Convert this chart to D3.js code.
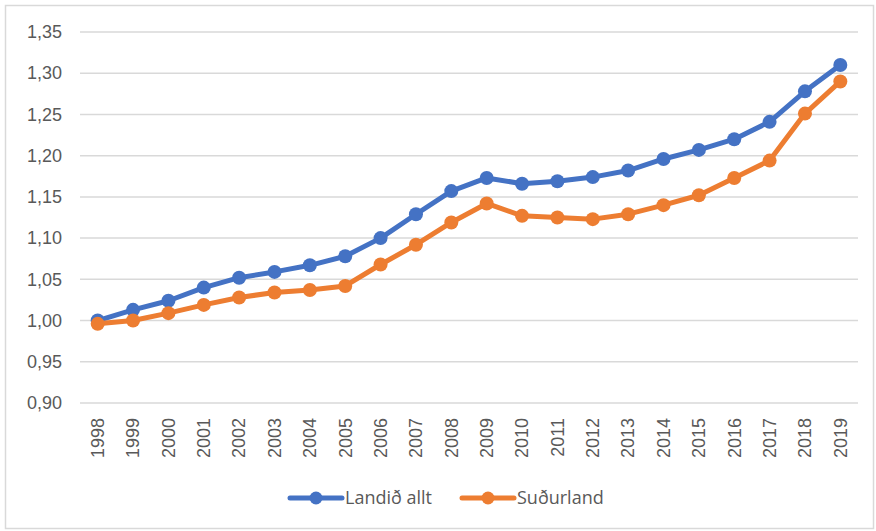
<!DOCTYPE html>
<html>
<head>
  <meta charset="utf-8">
  <title>Landið allt / Suðurland</title>
  <script src="https://cdn.jsdelivr.net/npm/d3@7/dist/d3.min.js"></script>
  <style>
    body { margin: 0; background: #fff; }
    svg { display: block; font-family: "Open Sans", "Noto Sans", sans-serif; }
    .grid line { stroke: #d9d9d9; stroke-width: 1.5; }
    .axis text { fill: #595959; font-size: 18px; }
    .legend text { fill: #595959; font-size: 18px; }
  </style>
</head>
<body>
  <div id="chart"></div>
  <script>
    // years on x axis
    const years = ['1998','1999','2000','2001','2002','2003','2004','2005','2006','2007','2008',
                   '2009','2010','2011','2012','2013','2014','2015','2016','2017','2018','2019'];
    const landidAllt = [1.000, 1.013, 1.024, 1.040, 1.052, 1.059, 1.067, 1.078, 1.100, 1.129, 1.157,
                        1.173, 1.166, 1.169, 1.174, 1.182, 1.196, 1.207, 1.220, 1.241, 1.278, 1.310];
    const sudurland = [0.996, 1.000, 1.009, 1.019, 1.028, 1.034, 1.037, 1.042, 1.068, 1.092, 1.119,
                       1.142, 1.127, 1.125, 1.123, 1.129, 1.140, 1.152, 1.173, 1.194, 1.251, 1.290];
    const yTicks = [0.90, 0.95, 1.00, 1.05, 1.10, 1.15, 1.20, 1.25, 1.30, 1.35];
    const seriesNames = ['Landið allt', 'Suðurland'];
    const colors = ['#4472C4', '#ED7D31'];

    const W = 876, H = 531;
    const plot = { left: 80, right: 858, top: 32, bottom: 403 };

    const svg = d3.select('#chart').append('svg')
      .attr('width', W).attr('height', H);

    // outer chart border
    svg.append('rect')
      .attr('x', 5.5).attr('y', 5.5)
      .attr('width', W - 8).attr('height', H - 8)
      .attr('fill', '#fff').attr('stroke', '#d9d9d9').attr('stroke-width', 1.5);

    const x = d3.scaleBand().domain(years).range([plot.left, plot.right]);
    const y = d3.scaleLinear().domain([0.90, 1.35]).range([plot.bottom, plot.top]);

    // gridlines
    svg.append('g').attr('class', 'grid')
      .selectAll('line').data(yTicks).join('line')
      .attr('x1', plot.left).attr('x2', plot.right)
      .attr('y1', d => y(d)).attr('y2', d => y(d));

    // y axis
    const fmt = d => d3.format('.2f')(d).replace('.', ',');
    const yAxis = svg.append('g').attr('class', 'axis')
      .attr('transform', `translate(${plot.left},0)`)
      .call(d3.axisLeft(y).tickValues(yTicks).tickFormat(fmt).tickSize(0).tickPadding(18));
    yAxis.select('.domain').remove();

    // x axis, rotated labels
    const xAxis = svg.append('g').attr('class', 'axis')
      .attr('transform', `translate(0,${plot.bottom})`)
      .call(d3.axisBottom(x).tickSize(0));
    xAxis.select('.domain').remove();
    xAxis.selectAll('text')
      .attr('transform', 'rotate(-90)')
      .attr('x', -15).attr('y', 0).attr('dy', '0.35em')
      .style('text-anchor', 'end');

    const cx = d => x(d) + x.bandwidth() / 2;
    const line = d3.line().x(d => cx(d[0])).y(d => y(d[1]));

    [landidAllt, sudurland].forEach((vals, i) => {
      const pts = years.map((yr, j) => [yr, vals[j]]);
      svg.append('path')
        .datum(pts)
        .attr('fill', 'none')
        .attr('stroke', colors[i])
        .attr('stroke-width', 5)
        .attr('stroke-linejoin', 'round')
        .attr('d', line);
      svg.append('g').selectAll('circle').data(pts).join('circle')
        .attr('cx', d => cx(d[0])).attr('cy', d => y(d[1]))
        .attr('r', 7).attr('fill', colors[i]);
    });

    // legend
    const legendX = [290, 462];
    const legend = svg.append('g').attr('class', 'legend');
    seriesNames.forEach((name, i) => {
      const g = legend.append('g').attr('transform', `translate(${legendX[i]},498)`);
      g.append('line').attr('x1', 0).attr('x2', 52)
        .attr('stroke', colors[i]).attr('stroke-width', 5).attr('stroke-linecap', 'round');
      g.append('circle').attr('cx', 26).attr('r', 6.5).attr('fill', colors[i]);
      g.append('text').attr('x', 55).attr('dy', '0.35em').text(name);
    });
  </script>
</body>
</html>
